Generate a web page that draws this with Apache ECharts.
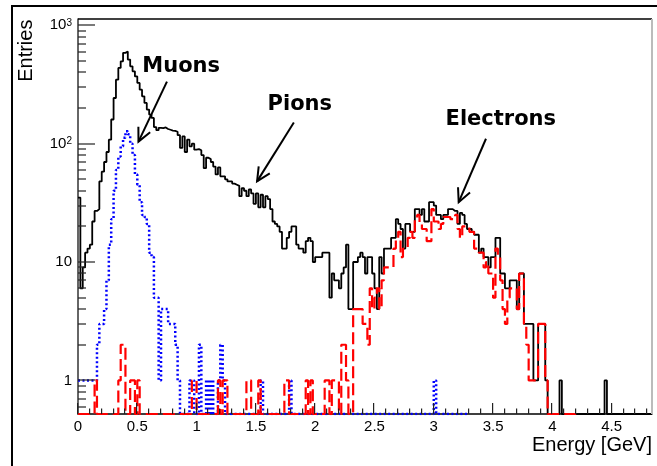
<!DOCTYPE html>
<html>
<head>
<meta charset="utf-8">
<script src="https://cdn.jsdelivr.net/npm/echarts@6/dist/echarts.min.js"></script>
<style>
  html, body { margin: 0; padding: 0; background: #fff; }
  #wrap { position: relative; width: 657px; height: 466px; overflow: hidden; }
  #chart { width: 657px; height: 466px; }
  #frame { position: absolute; left: 11px; top: 5px; width: 700px; height: 520px;
           border-left: 2px solid #000; border-top: 2px solid #000; pointer-events: none; }
</style>
</head>
<body>
<div id="wrap"><div id="chart"></div><div id="frame"></div></div>
<script>
// binning of the energy histograms (GeV)
const binWidth = 0.02;
const xMin = 0, xMax = 4.84;
const yMin = 0.52, yMax = 1130;

// entries per 0.02 GeV bin, first bin starts at 0 GeV
const allEntries = [
  35, 6, 9, 12, 13, 14, 22, 27, 28, 48,
  58, 70, 85, 108, 160, 243, 347, 436, 496, 585,
  600, 513, 450, 408, 370, 326, 286, 251, 221, 194,
  176, 165, 138, 130, 136, 135, 137, 133, 131, 129,
  128, 126, 118, 92, 115, 85, 108, 95, 100, 89,
  90, 88, 80, 62, 76, 74, 70, 64, 55, 63,
  53, 53, 50, 48, 48, 46, 45, 44, 36, 42,
  40, 36, 41, 38, 31, 38, 29, 37, 29, 36,
  34, 28, 22, 21, 20, 18, 13, 13, 16, 18,
  20, 20, 14, 13, 13, 12, 15, 16, 15, 10,
  11, 11, 11, 12, 12, 12, 5, 8, 7, 7,
  6, 8, 9, 14, 4, 4, 10, 10, 11, 12,
  11, 8, 11, 11, 8, 6, 4, 11, 8, 13,
  13, 13, 16, 16, 23, 21, 19, 13, 21, 21,
  18, 18, 28, 28, 25, 28, 22, 22, 32, 32,
  30, 25, 25, 23, 25, 25, 28, 28, 27, 27,
  21, 26, 25, 21, 19, 19, 18, 17, 17, 12,
  13, 11, 11, 9, 11, 11, 16, 16, 8, 8,
  6, 6, 7, 7, 7, 4, 8, 8, 3, 3,
  3, 3, 1, 1, 3, 3, 3, 1, 0, 0,
  0, 0, 0, 1, 0, 0, 0, 0, 0, 0,
  0, 0, 0, 0, 0, 0, 0, 0, 0, 0,
  0, 0, 1, 0, 0, 0, 0, 0, 0, 0,
  0, 0, 0, 0, 0, 0, 0, 0, 0, 0,
  0, 0
];

const muonEntries = [
  1, 1, 1, 1, 1, 1, 1, 1, 2, 3,
  3, 4, 7, 14, 23, 40, 60, 78, 95, 112,
  127, 120, 100, 80, 55, 45, 32, 25, 24, 21,
  12, 11, 5, 5, 1, 4, 4, 4, 3, 3,
  3, 2, 1, 0, 0, 0, 0, 1, 1, 0,
  0, 2, 0, 0, 1, 0, 1, 0, 0, 1,
  2, 1, 0, 0, 0, 0, 0, 0, 0, 0,
  0, 0, 0, 0, 0, 0, 0, 1, 0, 0,
  0, 0, 0, 0, 0, 0, 0, 0, 0, 1,
  0, 0, 0, 0, 0, 0, 0, 0, 0, 0,
  0, 0, 0, 0, 0, 0, 0, 0, 0, 0,
  0, 0, 0, 0, 0, 0, 0, 0, 0, 0,
  0, 0, 0, 0, 0, 0, 0, 0, 0, 0,
  0, 0, 0, 0, 0, 0, 0, 0, 0, 0,
  0, 0, 0, 0, 0, 0, 0, 0, 0, 0,
  1, 0, 0, 0, 0, 0, 0, 0, 0, 0,
  0, 0, 0, 0
];

const electronEntries = [
  0, 0, 0, 0, 0, 0, 0, 1, 0, 0,
  0, 0, 0, 0, 0, 0, 0, 1, 2, 2,
  0, 0, 1, 1, 0, 1, 0, 0, 0, 0,
  0, 0, 0, 0, 0, 0, 0, 0, 0, 0,
  0, 0, 0, 0, 0, 0, 0, 0, 1, 1,
  0, 0, 0, 0, 0, 0, 0, 0, 0, 1,
  0, 1, 1, 0, 0, 0, 0, 0, 0, 0,
  0, 1, 1, 0, 0, 0, 1, 0, 0, 0,
  0, 0, 0, 0, 0, 0, 0, 1, 1, 0,
  0, 0, 0, 0, 0, 0, 1, 0, 1, 0,
  0, 0, 0, 0, 1, 1, 0, 1, 1, 1,
  0, 2, 2, 1, 0, 0, 4, 4, 4, 4,
  3, 3, 2, 6, 4, 5, 6, 4, 7, 9,
  9, 9, 9, 13, 16, 18, 11, 13, 13, 16,
  18, 16, 23, 25, 21, 19, 19, 15, 15, 28,
  22, 22, 19, 21, 24, 24, 24, 23, 23, 25,
  19, 16, 20, 20, 20, 18, 18, 13, 13, 12,
  12, 9, 10, 8, 8, 5, 13, 11, 7, 4,
  3, 5, 6, 6, 6, 4, 8, 8, 3, 2,
  1, 1, 1, 1, 3, 3, 3, 1, 0, 0,
  0, 0, 0, 0, 0, 0, 0, 0, 0, 0,
  0, 0
];

// axis ticks and labels
const xTickLabels = [0, 0.5, 1, 1.5, 2, 2.5, 3, 3.5, 4, 4.5];
const xMinorTicks = [0.1, 0.2, 0.3, 0.4, 0.6, 0.7, 0.8, 0.9, 1.1, 1.2, 1.3, 1.4,
  1.6, 1.7, 1.8, 1.9, 2.1, 2.2, 2.3, 2.4, 2.6, 2.7, 2.8, 2.9, 3.1, 3.2, 3.3, 3.4,
  3.6, 3.7, 3.8, 3.9, 4.1, 4.2, 4.3, 4.4, 4.6, 4.7, 4.8];
const yTickLabels = [1, 10, 100, 1000];
const yMinorTicks = [0.6, 0.7, 0.8, 0.9, 2, 3, 4, 5, 6, 7, 8, 9,
  20, 30, 40, 50, 60, 70, 80, 90, 200, 300, 400, 500, 600, 700, 800, 900];

// text labels and arrows, in (energy, entries)
const notes = [
  { text: 'Muons', at: [0.87, 450], from: [0.75, 334], to: [0.51, 104] },
  { text: 'Pions', at: [1.87, 214], from: [1.82, 151], to: [1.51, 48] },
  { text: 'Electrons', at: [3.565, 159], from: [3.44, 110], to: [3.21, 32] }
];

// axis titles, anchored in (energy, entries) outside the plot
const yTitle = { text: 'Entries', at: [-0.438, 610] };
const xTitle = { text: 'Energy [GeV]', at: [xMax, 0.28] };

const FONT = 'Liberation Sans, Arial, Helvetica, sans-serif';

// histogram outline: one point per low bin edge, plus the last high edge
const toSteps = bins => {
  const pts = bins.map((v, i) => [+(i * binWidth).toFixed(2), v > 0 ? v : yMin]);
  const last = bins[bins.length - 1];
  pts.push([+(bins.length * binWidth).toFixed(2), last > 0 ? last : yMin]);
  return pts;
};

const hist = (data, color, type, width) => ({
  type: 'line',
  step: 'end',
  data: toSteps(data),
  symbol: 'none',
  lineStyle: { color: color, width: width, type: type }
});

const seg = (a, b, color, width) => ({
  type: 'line', shape: { x1: a[0], y1: a[1], x2: b[0], y2: b[1] },
  style: { stroke: color, lineWidth: width }
});

// tick as a thin filled bar (fill, not stroke)
const bar = (x, y, w, h) => ({
  type: 'rect', shape: { x: x, y: y, width: w, height: h },
  style: { fill: '#222', stroke: null }
});

// frame pieces: top/right border, inside ticks, axis titles
const renderFrame = (params, api) => {
  const children = [];
  children.push(seg(api.coord([xMin, yMax]), api.coord([xMax, yMax]), '#000', 1.5));
  children.push(seg(api.coord([xMax, yMax]), api.coord([xMax, yMin]), '#bbb', 2));
  const xt = (vals, len) => vals.forEach(v => {
    const p = api.coord([v, yMin]);
    children.push(bar(Math.round(p[0]) - 1, p[1] - len, 1.2, len));
  });
  const yt = (vals, len) => vals.forEach(v => {
    const p = api.coord([xMin, v]);
    children.push(bar(p[0], Math.round(p[1]) - 0.6, len, 1.2));
  });
  xt(xTickLabels, 11); xt(xMinorTicks, 5.5);
  yt(yTickLabels, 17); yt(yMinorTicks, 8);
  const ya = api.coord(yTitle.at), xa = api.coord(xTitle.at);
  children.push({ type: 'text', x: ya[0], y: ya[1], rotation: Math.PI / 2,
    style: { text: yTitle.text, font: '20px ' + FONT, fill: '#000', align: 'center', verticalAlign: 'middle' } });
  children.push({ type: 'text', x: xa[0], y: xa[1],
    style: { text: xTitle.text, font: '20px ' + FONT, fill: '#000', align: 'right', verticalAlign: 'middle' } });
  return { type: 'group', children: children };
};

// label + arrow with an open head
const renderNote = (params, api) => {
  const n = notes[params.dataIndex];
  const a = api.coord(n.at), s = api.coord(n.from), t = api.coord(n.to);
  const ang = Math.atan2(s[1] - t[1], s[0] - t[0]);
  const len = 15, spread = 0.45;
  return {
    type: 'group',
    children: [
      { type: 'text', x: a[0], y: a[1],
        style: { text: n.text, font: 'bold 21px DejaVu Sans, sans-serif', fill: '#000', align: 'center', verticalAlign: 'middle' } },
      seg(s, t, '#000', 2),
      { type: 'polyline', shape: { points: [
          [t[0] + len * Math.cos(ang + spread), t[1] + len * Math.sin(ang + spread)],
          [t[0], t[1]],
          [t[0] + len * Math.cos(ang - spread), t[1] + len * Math.sin(ang - spread)]
        ] }, style: { stroke: '#000', lineWidth: 2, fill: 'none' } }
    ]
  };
};

const chart = echarts.init(document.getElementById('chart'));

chart.setOption({
  animation: false,
  grid: { left: 78, right: 5, top: 19, bottom: 52, outerBoundsMode: 'none' },
  xAxis: {
    type: 'value', min: xMin, max: xMax, position: 'bottom',
    axisLine: { show: true, lineStyle: { color: '#000', width: 1.5 } },
    axisTick: { show: false },
    axisLabel: { customValues: xTickLabels, fontSize: 15, color: '#000', fontFamily: FONT, margin: 5 },
    splitLine: { show: false }
  },
  yAxis: {
    type: 'log', min: yMin, max: yMax, position: 'left',
    axisLine: { show: true, lineStyle: { color: '#333', width: 1.5 } },
    axisTick: { show: false },
    axisLabel: {
      customValues: yTickLabels, fontSize: 15, color: '#000', fontFamily: FONT, margin: 6,
      formatter: v => v >= 100 ? '10{e|' + Math.round(Math.log10(v)) + '}' : String(v),
      rich: { e: { fontSize: 10, color: '#000', fontFamily: FONT, verticalAlign: 'top' } }
    },
    splitLine: { show: false }
  },
  series: [
    hist(allEntries, '#000', 'solid', 1.8),
    hist(muonEntries, '#0000ff', [2, 2.5], 2.5),
    hist(electronEntries, '#ff0000', [12, 5], 2.2),
    {
      type: 'custom',
      clip: false,
      z: 4,
      data: [[xMin, yMin]],
      renderItem: renderFrame
    },
    {
      type: 'custom',
      clip: false,
      z: 4,
      data: notes.map(n => n.at),
      renderItem: renderNote
    }
  ]
});
</script>
</body>
</html>
